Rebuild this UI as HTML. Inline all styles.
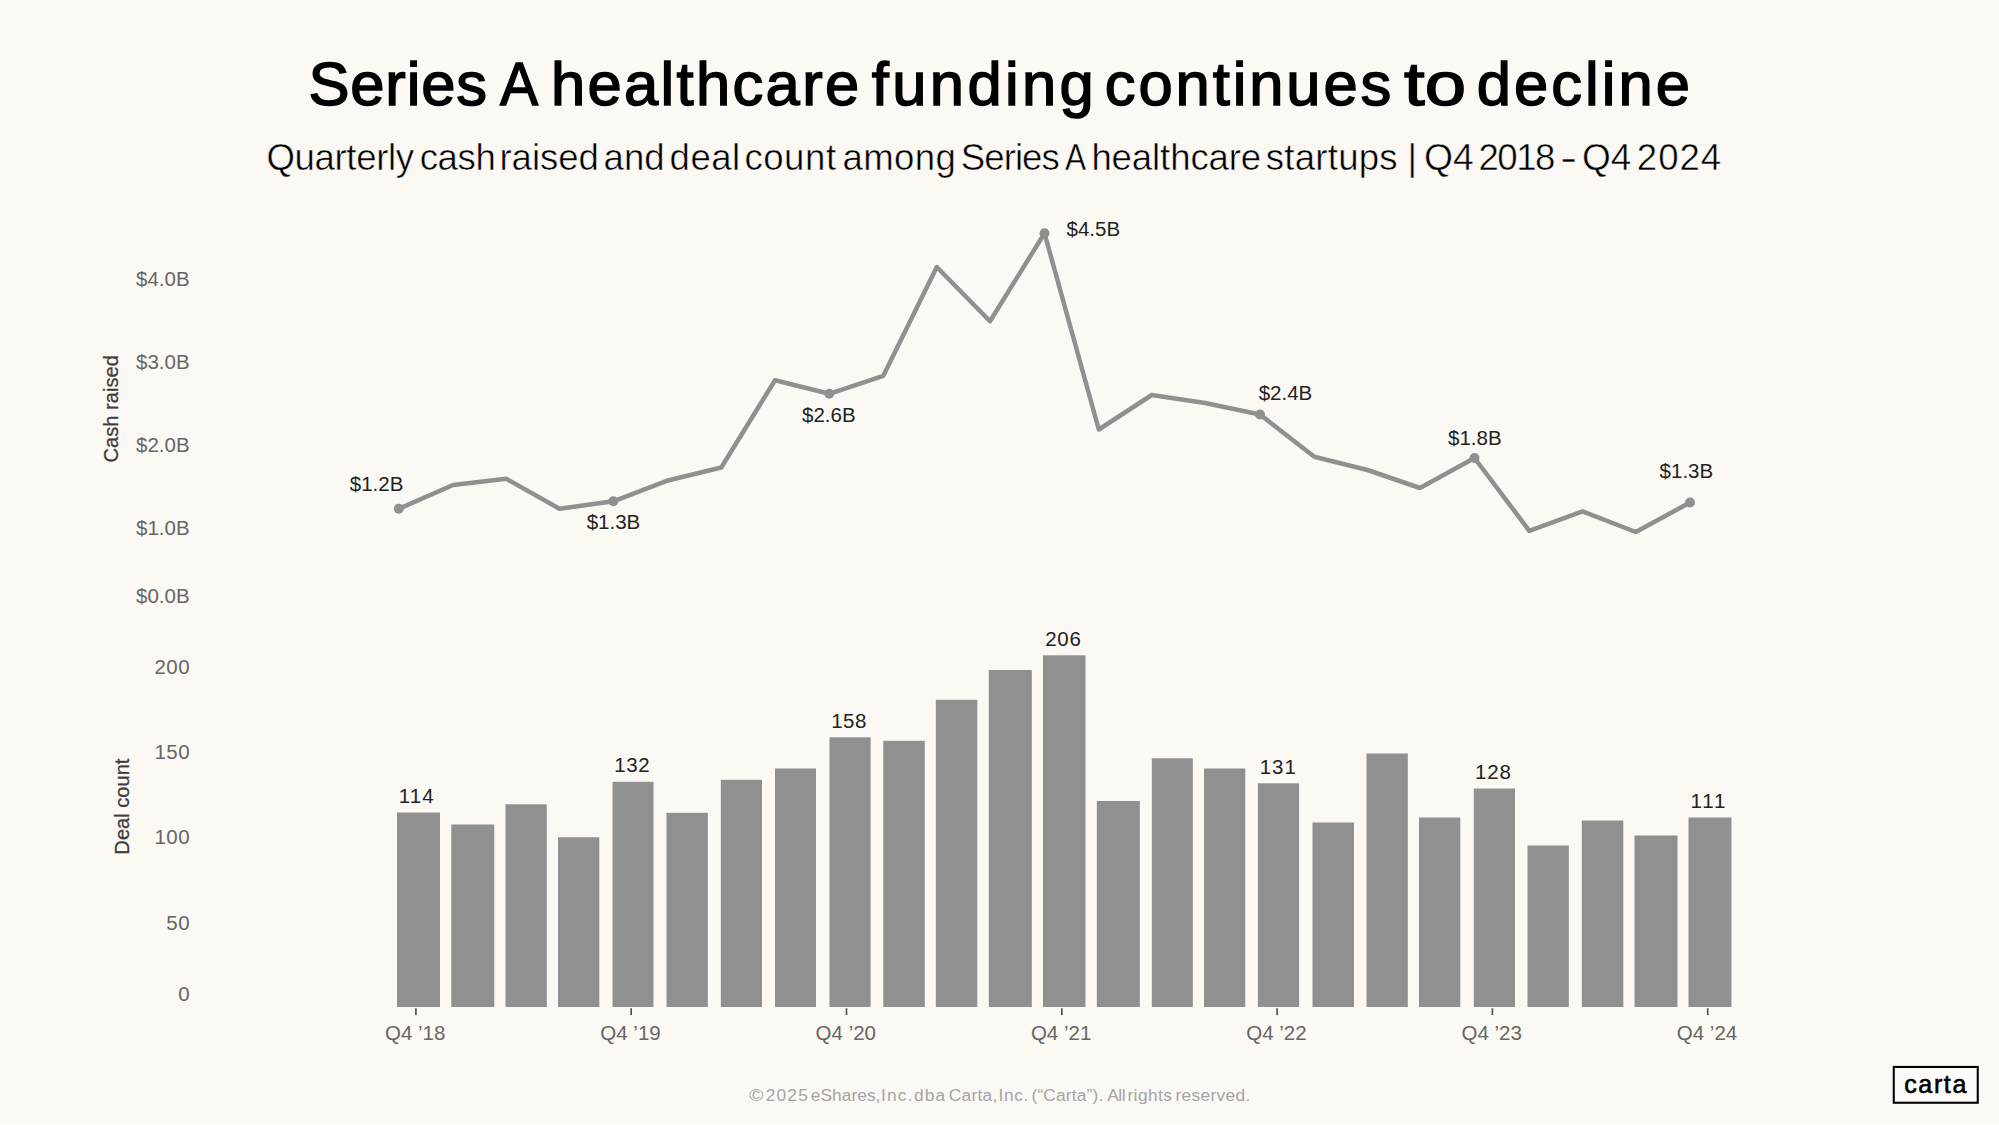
<!DOCTYPE html>
<html lang="en">
<head>
<meta charset="utf-8">
<title>Series A healthcare funding continues to decline</title>
<style>
html,body{margin:0;padding:0;}
body{width:1999px;height:1125px;background:#fcf9f4;position:relative;overflow:hidden;font-family:"Liberation Sans",sans-serif;}
.chart{position:absolute;left:0;top:0;font-family:"Liberation Sans",sans-serif;}
h1{position:absolute;left:0;top:43.9px;margin:0;width:1999px;height:80px;white-space:nowrap;font-weight:400;font-size:61.5px;line-height:80px;color:#000;-webkit-text-stroke:1.5px #000;}
h2{position:absolute;left:0;top:132.6px;margin:0;width:1999px;height:50px;white-space:nowrap;font-weight:400;font-size:36.6px;line-height:50px;color:#000;-webkit-text-stroke:0.5px #fcf9f4;}
h1 span,h2 span{position:absolute;top:0;transform-origin:left center;}
.footer{position:absolute;left:0;top:1079.5px;width:1999px;height:30px;white-space:nowrap;font-size:17.3px;line-height:30px;color:#a4a4a4;}
.footer span{position:absolute;top:0;transform-origin:left center;}
.edge{position:absolute;left:0;top:1124px;width:1999px;height:1px;background:#fff;}
.logo{position:absolute;left:1891px;top:1064px;width:90px;height:42px;color:#000;font-size:25px;line-height:30px;}
.logo svg{position:absolute;left:0;top:0;}
.logo span{position:absolute;left:13.2px;top:5.1px;letter-spacing:1.65px;-webkit-text-stroke:0.6px #000;}
</style>
</head>
<body>
<h1><span style="left:308.5px;letter-spacing:0.82px">Series</span> <span style="left:499.8px;transform:scaleX(0.930)">A</span> <span style="left:550.9px;letter-spacing:2.34px">healthcare</span> <span style="left:871.8px;letter-spacing:3.37px">funding</span> <span style="left:1104.8px;letter-spacing:2.90px">continues</span> <span style="left:1403.8px;transform:scaleX(1.208)">to</span> <span style="left:1476.8px;letter-spacing:3.03px">decline</span></h1>
<h2><span style="left:266.4px;letter-spacing:-0.34px">Quarterly</span> <span style="left:419.7px;letter-spacing:-0.40px">cash</span> <span style="left:499.5px;letter-spacing:-0.06px">raised</span> <span style="left:603.6px;letter-spacing:0.00px">and</span> <span style="left:669.6px;letter-spacing:0.47px">deal</span> <span style="left:744.4px;letter-spacing:0.55px">count</span> <span style="left:842.4px;letter-spacing:0.40px">among</span> <span style="left:960.8px;letter-spacing:-0.94px">Series</span> <span style="left:1065.2px;transform:scaleX(0.865)">A</span> <span style="left:1091.4px;letter-spacing:-0.11px">healthcare</span> <span style="left:1265.8px;letter-spacing:0.24px">startups</span> <span style="left:1407.6px;letter-spacing:0.00px">|</span> <span style="left:1423.9px;transform:scaleX(1.020)">Q4</span> <span style="left:1478.5px;letter-spacing:-1.53px">2018</span> <span style="left:1560.0px;transform:scaleX(1.412)">-</span> <span style="left:1582.4px;transform:scaleX(1.013)">Q4</span> <span style="left:1636.8px;letter-spacing:1.00px">2024</span></h2>
<svg class="chart" width="1999" height="1125" viewBox="0 0 1999 1125">
<g class="bars" fill="#909090">
<rect x="397.0" y="812.5" width="43.0" height="194.5"/>
<rect x="451.3" y="824.5" width="43.0" height="182.5"/>
<rect x="505.5" y="804.3" width="41.3" height="202.7"/>
<rect x="558.0" y="837.3" width="41.3" height="169.7"/>
<rect x="612.5" y="781.8" width="41.0" height="225.2"/>
<rect x="666.5" y="812.8" width="41.3" height="194.2"/>
<rect x="720.8" y="779.8" width="41.2" height="227.2"/>
<rect x="775.0" y="768.5" width="41.0" height="238.5"/>
<rect x="829.5" y="737.3" width="41.1" height="269.7"/>
<rect x="883.3" y="740.8" width="41.5" height="266.2"/>
<rect x="935.8" y="699.8" width="41.5" height="307.2"/>
<rect x="988.8" y="670.0" width="43.0" height="337.0"/>
<rect x="1043.0" y="655.3" width="42.5" height="351.7"/>
<rect x="1096.8" y="801.0" width="43.0" height="206.0"/>
<rect x="1151.8" y="758.3" width="41.0" height="248.7"/>
<rect x="1204.0" y="768.5" width="41.3" height="238.5"/>
<rect x="1257.9" y="783.3" width="41.2" height="223.7"/>
<rect x="1312.5" y="822.5" width="41.5" height="184.5"/>
<rect x="1366.5" y="753.5" width="41.3" height="253.5"/>
<rect x="1419.0" y="817.5" width="41.3" height="189.5"/>
<rect x="1473.8" y="788.5" width="41.2" height="218.5"/>
<rect x="1527.5" y="845.5" width="41.3" height="161.5"/>
<rect x="1581.8" y="820.5" width="41.5" height="186.5"/>
<rect x="1634.5" y="835.5" width="43.0" height="171.5"/>
<rect x="1688.5" y="817.5" width="43.0" height="189.5"/>
</g>
<polyline class="line" fill="none" stroke="#909090" stroke-width="4.5" stroke-linejoin="round" stroke-linecap="round" points="398.8,508.8 453.0,485.0 506.3,478.8 559.5,508.8 613.3,501.3 666.8,480.8 721.3,467.5 775.0,380.3 829.3,393.8 883.3,375.8 936.8,267.0 990.0,321.3 1044.5,233.3 1098.8,429.5 1151.8,395.0 1205.0,403.0 1260.0,414.5 1314.3,456.8 1367.5,470.0 1420.0,488.0 1474.5,458.0 1529.3,530.8 1582.5,511.3 1635.8,532.0 1690.0,502.5"/>
<g class="dots" fill="#909090">
<circle cx="398.8" cy="508.8" r="5"/>
<circle cx="613.3" cy="501.3" r="5"/>
<circle cx="829.3" cy="393.8" r="5"/>
<circle cx="1044.5" cy="233.3" r="5"/>
<circle cx="1260.0" cy="414.5" r="5"/>
<circle cx="1474.5" cy="458.0" r="5"/>
<circle cx="1690.0" cy="502.5" r="5"/>
</g>
<g class="axis" fill="#666666" font-size="20.5" text-anchor="end">
<text x="189.6" y="285.7">$4.0B</text>
<text x="189.6" y="369.3">$3.0B</text>
<text x="189.6" y="452.1">$2.0B</text>
<text x="189.6" y="535.3">$1.0B</text>
<text x="189.6" y="602.9">$0.0B</text>
<text x="190.1" y="673.5" letter-spacing="0.5">200</text>
<text x="190.1" y="758.9" letter-spacing="0.5">150</text>
<text x="190.1" y="844.2" letter-spacing="0.5">100</text>
<text x="190.1" y="930.3" letter-spacing="0.5">50</text>
<text x="190.1" y="1000.7" letter-spacing="0.5">0</text>
</g>
<g class="axis-title" fill="#3d3d3d" stroke="#3d3d3d" stroke-width="0.3" font-size="20.1" text-anchor="middle">
<text transform="translate(118,408.8) rotate(-90)">Cash raised</text>
<text transform="translate(129.2,806.6) rotate(-90)">Deal count</text>
</g>
<g class="xaxis" fill="#666666" font-size="20.5" text-anchor="middle">
<rect x="415.1" y="1008.3" width="1.6" height="6.8" fill="#4a4a4a"/>
<text x="415.2" y="1040.3">Q4 ’18</text>
<rect x="630.4" y="1008.3" width="1.6" height="6.8" fill="#4a4a4a"/>
<text x="630.5" y="1040.3">Q4 ’19</text>
<rect x="845.7" y="1008.3" width="1.6" height="6.8" fill="#4a4a4a"/>
<text x="845.8" y="1040.3">Q4 ’20</text>
<rect x="1061.0" y="1008.3" width="1.6" height="6.8" fill="#4a4a4a"/>
<text x="1061.1" y="1040.3">Q4 ’21</text>
<rect x="1276.3" y="1008.3" width="1.6" height="6.8" fill="#4a4a4a"/>
<text x="1276.4" y="1040.3">Q4 ’22</text>
<rect x="1491.6" y="1008.3" width="1.6" height="6.8" fill="#4a4a4a"/>
<text x="1491.7" y="1040.3">Q4 ’23</text>
<rect x="1706.9" y="1008.3" width="1.6" height="6.8" fill="#4a4a4a"/>
<text x="1707.0" y="1040.3">Q4 ’24</text>
</g>
<g class="labels" fill="#222222" font-size="20.5" text-anchor="middle">
<text x="376.6" y="491.0">$1.2B</text>
<text x="613.5" y="529.0">$1.3B</text>
<text x="828.8" y="421.8">$2.6B</text>
<text x="1093.3" y="235.8">$4.5B</text>
<text x="1285.5" y="400.3">$2.4B</text>
<text x="1474.8" y="444.8">$1.8B</text>
<text x="1686.4" y="478.0">$1.3B</text>
<text text-anchor="start" letter-spacing="1.12" x="398.7" y="803.0">114</text>
<text text-anchor="start" letter-spacing="0.62" x="614.2" y="772.3">132</text>
<text text-anchor="start" letter-spacing="0.50" x="831.2" y="727.8">158</text>
<text text-anchor="start" letter-spacing="0.75" x="1045.2" y="645.8">206</text>
<text text-anchor="start" letter-spacing="1.00" x="1259.7" y="773.8">131</text>
<text text-anchor="start" letter-spacing="0.88" x="1475.0" y="779.0">128</text>
<text text-anchor="start" letter-spacing="1.88" x="1690.5" y="808.0">111</text>
</g>
</svg>
<div class="footer"><span style="left:748.8px;transform:scaleX(1.133)">©</span> <span style="left:765.7px;letter-spacing:1.23px">2025</span> <span style="left:810.8px;letter-spacing:0.06px">eShares,</span> <span style="left:881.1px;letter-spacing:1.10px">Inc.</span> <span style="left:913.9px;letter-spacing:1.20px">dba</span> <span style="left:948.7px;letter-spacing:0.30px">Carta,</span> <span style="left:998.5px;letter-spacing:0.67px">Inc.</span> <span style="left:1031.5px;letter-spacing:0.18px">(“Carta”).</span> <span style="left:1107.2px;letter-spacing:-0.40px">All</span> <span style="left:1127.4px;letter-spacing:0.46px">rights</span> <span style="left:1175.4px;letter-spacing:0.36px">reserved.</span></div>
<div class="logo"><svg width="90" height="42" viewBox="0 0 90 42"><rect x="1.2" y="1.4" width="87.1" height="38.9" fill="#fff" opacity=".8"/><rect x="2.75" y="2.95" width="84" height="35.8" fill="#fdfbf8" stroke="#000" stroke-width="2.1"/></svg><span>carta</span></div>
<div class="edge"></div>
</body>
</html>
